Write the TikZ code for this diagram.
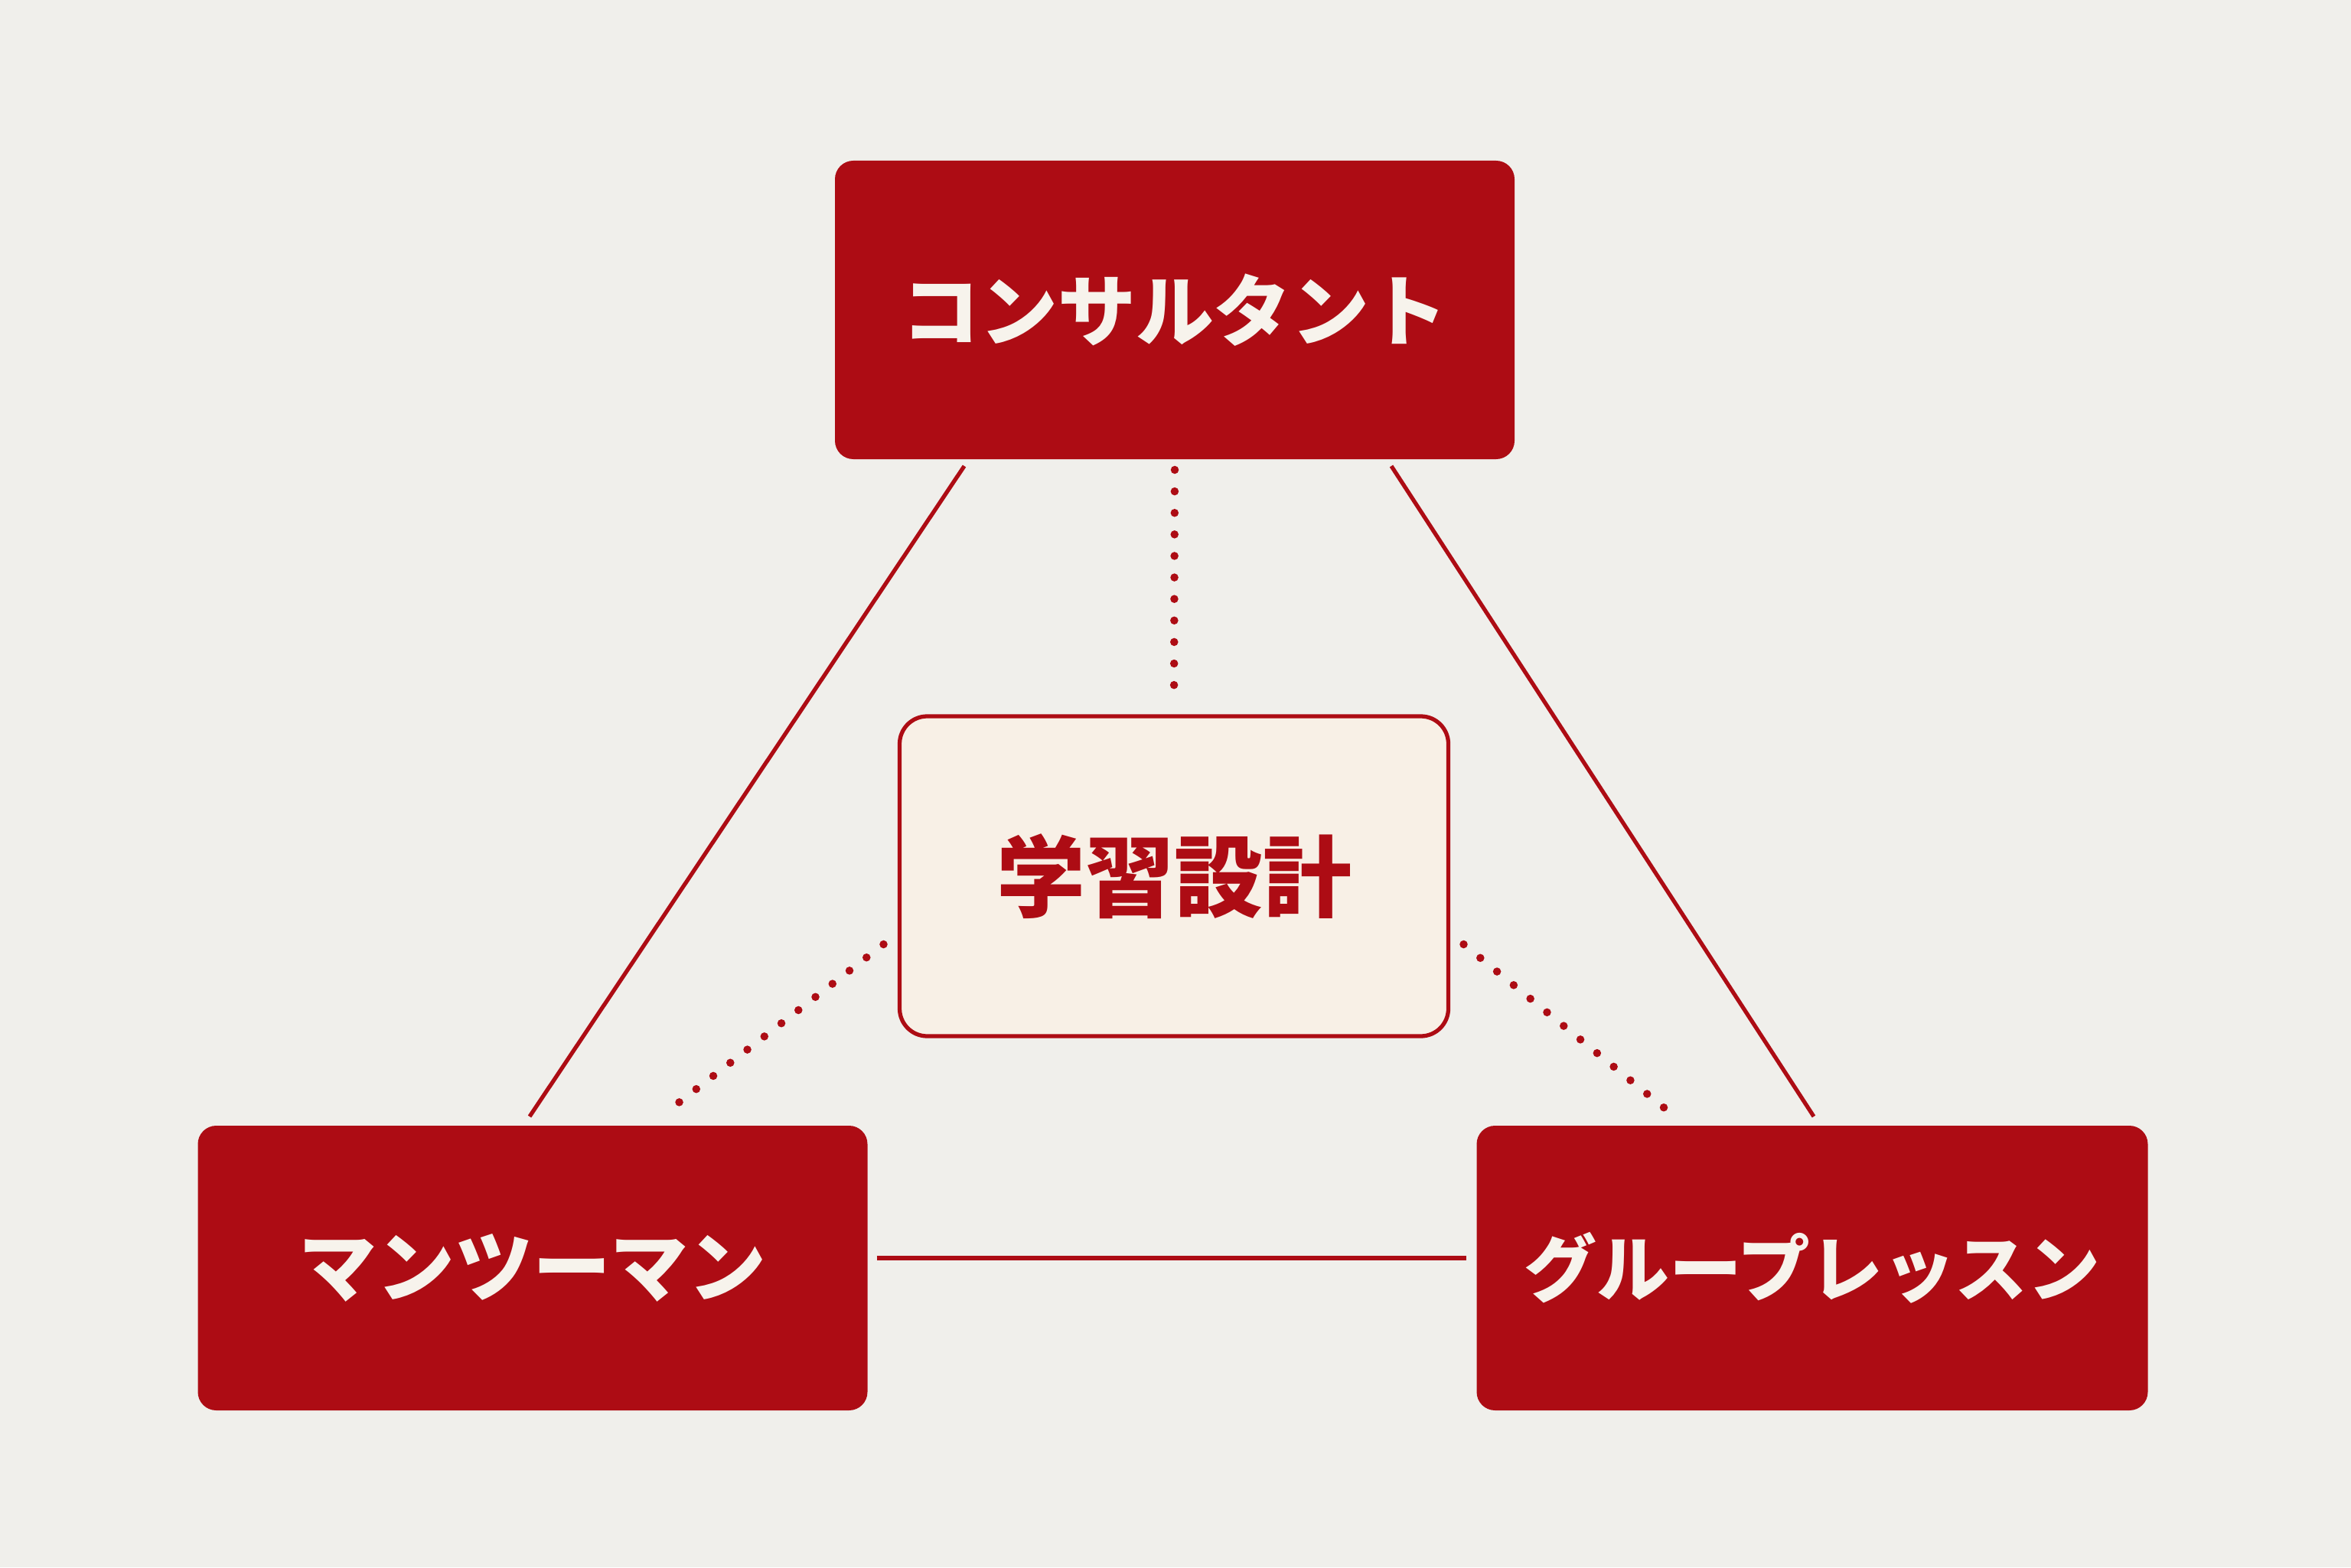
\documentclass[tikz,border=0pt]{standalone}
\usepackage{fontspec}
\newfontfamily\jpfont{Noto Sans CJK JP}
\usetikzlibrary{calc}
\definecolor{paper}{HTML}{F0EFEB}
\definecolor{brickred}{HTML}{AD0C14}
\definecolor{cream}{HTML}{F8F0E6}
\definecolor{offwhite}{HTML}{F7F3EC}
\tikzset{
  rolebox/.style={fill=brickred, rounded corners=0.24cm, outer sep=0pt, inner sep=0pt,
    text=offwhite, font=\jpfont\bfseries\fontsize{29}{34}\selectfont},
  corebox/.style={fill=cream, draw=brickred, line width=1.5pt, rounded corners=0.36cm, outer sep=0pt,
    inner sep=0pt, text=brickred, font=\jpfont\bfseries\fontsize{33}{38}\selectfont},
  link/.style={draw=brickred, line width=1.5pt},
  dotlink/.style={draw=brickred, line width=3pt, line cap=round, dash pattern=on 0pt off 8pt}
}
\begin{document}
\begin{tikzpicture}
\fill[paper] (0,0) rectangle (30.72,20.48);
\node[rolebox, minimum width=8.88cm, minimum height=3.90cm] (consult) at (15.35,16.43) {コンサルタント};
\node[corebox, minimum width=7.17cm, minimum height=4.18cm] (design) at (15.34,9.03) {学習設計};
\node[rolebox, minimum width=8.75cm, minimum height=3.72cm] (one) at (6.96,3.91) {マンツーマン};
\node[rolebox, minimum width=8.77cm, minimum height=3.72cm, font=\jpfont\bfseries\fontsize{27}{32}\selectfont] (group) at (23.68,3.91) {グループレッスン};
\draw[link] ([xshift=-2.75cm,yshift=-0.09cm]consult.south) -- ([xshift=-0.04cm,yshift=0.12cm]one.north);
\draw[link] ([xshift=2.83cm,yshift=-0.09cm]consult.south) -- ([xshift=0.02cm,yshift=0.12cm]group.north);
\draw[link] ([xshift=0.12cm,yshift=0.13cm]one.east) -- ([xshift=-0.14cm,yshift=0.13cm]group.west);
\draw[dotlink] ([yshift=-0.14cm]consult.south) -- ([yshift=0.22cm]design.north);
\draw[dotlink] ([xshift=-0.21cm,yshift=-0.89cm]design.west) -- ([xshift=1.70cm,yshift=0.14cm]one.north);
\draw[dotlink] ([xshift=0.20cm,yshift=-0.89cm]design.east) -- ([xshift=-1.82cm,yshift=0.14cm]group.north);
\end{tikzpicture}
\end{document}
